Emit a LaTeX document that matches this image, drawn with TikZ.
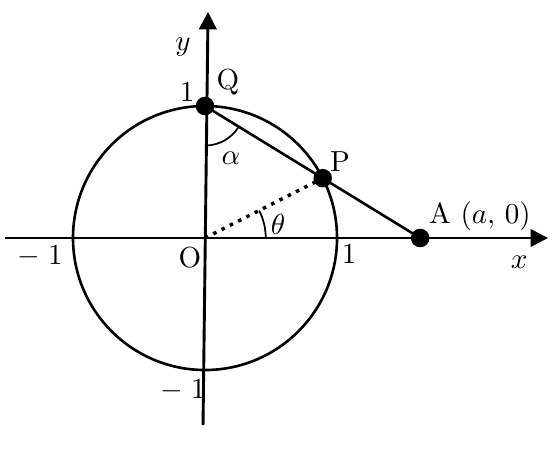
\documentclass[tikz,border=0pt]{standalone}
\usepackage{amsmath}
\usetikzlibrary{arrows.meta,calc}
\tikzstyle{dot}=[circle,fill=black,minimum size=6.4pt,inner sep=0pt]
\tikzstyle{axis}=[draw,line width=1pt,-{Triangle[length=6pt,width=6pt]}]
\tikzstyle{curve}=[draw,line width=0.9pt]
\tikzstyle{lbl}=[inner sep=0pt]

\begin{document}
\begin{tikzpicture}[x=1.6cm,y=1.6cm]
    \useasboundingbox (-1.553,-1.591) rectangle (2.674,1.803);
    % The points O, Q, A and P on the unit circle
    \def\a{1.63}
    \pgfmathsetmacro{\px}{2*\a/(\a*\a+1)}
    \pgfmathsetmacro{\py}{(\a*\a-1)/(\a*\a+1)}
    \pgfmathsetmacro{\th}{atan2(\py,\px)}
    \pgfmathsetmacro{\al}{atan2(-1,\a)}
    \coordinate (O) at (0,0);
    \coordinate (Q) at (0,1);
    \coordinate (A) at (\a,0);
    \coordinate (P) at (\px,\py);
    % Axes
    \coordinate (xl) at (-1.515,0);
    \coordinate (xr) at (2.598,0);
    \coordinate (yb) at (-0.015,-1.417);
    \coordinate (yt) at (0.023,1.712);
    \path[axis] (xl) -- (xr);
    \path[axis] (yb) -- (yt);
    % Circle, the line QA and the radius OP
    \path[curve] (O) circle (1);
    \path[curve] (Q) -- (A);
    \draw[line width=1.2pt,dotted] (O) -- (P);
    % Angles
    \draw[line width=0.6pt] ($(Q)+(0,-0.3)$) arc (-90:\al:0.3);
    \draw[line width=0.6pt] (0.46,0) arc (0:\th:0.46);
    % Then the dots
    \foreach \p in {Q,P,A}
        \node[dot] (\p dot) at (\p) {};
    % Labels
    \foreach \pos/\name/\txt in {{(-0.167,1.447)/ylab/$y$}, {(0.174,1.182)/Qlab/Q},
        {(-0.136,1.106)/onelabY/$1$}, {(0.197,0.606)/alab/$\alpha$},
        {(1.023,0.576)/Plab/P}, {(0.553,0.106)/tlab/$\theta$},
        {(2.083,0.167)/Alab/A\ $(a,\,0)$}, {(2.379,-0.182)/xlab/$x$},
        {(1.091,-0.121)/onelabX/$1$}, {(-0.114,-0.152)/Olab/O},
        {(-1.25,-0.136)/mlabX/$-\;1$}, {(-0.167,-1.152)/mlabY/$-\;1$}}
        \node[lbl] (\name) at \pos {\txt};
\end{tikzpicture}
\end{document}
